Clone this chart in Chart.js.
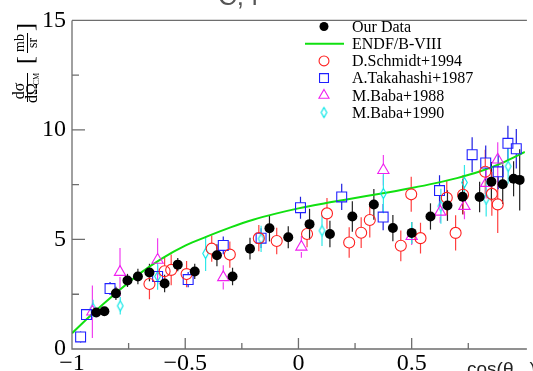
<!DOCTYPE html>
<html>
<head>
<meta charset="utf-8">
<script src="https://cdn.jsdelivr.net/npm/chart.js@4.4.0/dist/chart.umd.min.js"></script>
<style>
  html, body { margin: 0; padding: 0; background: #fff; overflow: hidden; }
  #wrap { width: 533px; height: 371px; }
</style>
</head>
<body>
<div id="wrap"><canvas id="xsec" width="533" height="371"></canvas></div>
<script>
// Angular distribution, x = cos(theta_CM), y = dsigma/dOmega in mb/sr

// Our Data
const ourX   = [-0.893, -0.857, -0.806, -0.755, -0.709, -0.658, -0.591, -0.533, -0.458, -0.36, -0.291, -0.214, -0.128, -0.045,
                0.049, 0.139, 0.238, 0.333, 0.417, 0.50, 0.583, 0.658, 0.725, 0.80, 0.852, 0.902, 0.95, 0.977];
const ourY   = [1.67, 1.72, 2.54, 3.13, 3.31, 3.49, 2.99, 3.85, 3.54, 4.28, 3.31, 4.58, 5.51, 5.10,
                5.70, 5.25, 6.05, 6.60, 5.52, 5.30, 6.05, 6.55, 6.95, 6.94, 7.64, 7.52, 7.77, 7.72];
const ourErr = [0.2, 0.2, 0.3, 0.3, 0.35, 0.4, 0.4, 0.3, 0.35, 0.5, 0.4, 0.5, 0.6, 0.5,
                0.7, 0.6, 0.7, 0.7, 0.6, 0.5, 0.6, 0.7, 0.8, 0.7, 0.9, 0.9, 0.8, 1.4];

// D.Schmidt+1994
const schX   = [-0.658, -0.591, -0.562, -0.494, -0.383, -0.303, -0.175, -0.096, 0.038, 0.126, 0.224, 0.277, 0.315,
                0.452, 0.498, 0.539, 0.655, 0.694, 0.727, 0.825, 0.854, 0.88];
const schY   = [2.97, 3.55, 3.61, 3.42, 4.58, 4.31, 5.06, 4.93, 5.25, 6.19, 4.86, 5.31, 5.89,
                4.71, 7.06, 5.06, 6.90, 5.30, 7.04, 8.09, 7.08, 6.60];
const schErr = [0.7, 0.7, 0.7, 0.6, 0.6, 0.6, 0.6, 0.6, 0.6, 0.7, 0.7, 0.7, 0.8,
                0.7, 0.8, 0.7, 0.8, 0.8, 0.9, 1.0, 1.0, 1.3];

// A.Takahashi+1987
const takX   = [-0.962, -0.936, -0.832, -0.622, -0.487, -0.332, -0.165, 0.009, 0.191, 0.374, 0.623, 0.767, 0.827, 0.882, 0.925, 0.962];
const takY   = [0.55, 1.57, 2.76, 3.31, 3.17, 4.73, 5.06, 6.45, 6.94, 6.02, 7.23, 8.87, 8.49, 8.09, 9.39, 9.14];
const takErr = [0.25, 0.25, 0.3, 0.35, 0.35, 0.4, 0.45, 0.5, 0.6, 0.6, 0.7, 0.8, 0.8, 0.8, 0.8, 0.9];

// M.Baba+1988
const b88X   = [-0.91, -0.788, -0.622, -0.332, 0.013, 0.375, 0.50, 0.626, 0.733, 0.829, 0.88];
const b88Y   = [1.70, 3.51, 4.06, 3.27, 4.66, 8.16, 5.15, 6.26, 6.52, 7.57, 8.64];
const b88Err = [1.2, 1.1, 1.0, 0.55, 0.5, 0.7, 0.4, 0.5, 0.6, 0.7, 0.8];

// M.Baba+1990
const b90X   = [-0.907, -0.787, -0.622, -0.41, -0.165, 0.104, 0.375, 0.50, 0.629, 0.733, 0.829, 0.926];
const b90Y   = [1.85, 1.97, 3.31, 4.36, 5.03, 5.40, 7.10, 5.30, 6.52, 7.60, 6.85, 8.34];
const b90Err = [0.4, 0.4, 0.6, 0.8, 0.6, 0.7, 0.9, 0.5, 0.8, 0.8, 0.8, 0.8];

// ENDF/B-VIII evaluation
const endfX = [-1, -0.9, -0.8, -0.7, -0.6, -0.5, -0.4, -0.3, -0.2, -0.1, 0, 0.1, 0.2, 0.3, 0.4, 0.5, 0.6, 0.7, 0.8, 0.9, 1];
const endfY = [0.72, 1.7, 2.6, 3.45, 4.15, 4.72, 5.15, 5.55, 5.9, 6.18, 6.42, 6.62, 6.8, 6.98, 7.16, 7.35, 7.56, 7.8, 8.1, 8.5, 9.0];

// axis ticks
const xMajor = [-1, -0.5, 0, 0.5];
const xMinor = [-0.75, -0.25, 0.25, 0.75];
const yMajor = [0, 5, 10, 15];
const yMinor = [2.5, 7.5, 12.5];

const AXIS_GREY = '#6e6e6e';
const SERIF = '"Liberation Serif", "DejaVu Serif", serif';
const SANS = '"Liberation Sans", Arial, sans-serif';

const pts = (xs, ys) => xs.map((x, i) => ({ x: x, y: ys[i] }));

// thin diamond marker
function diamondMarker(color) {
  const c = document.createElement('canvas');
  c.width = 9; c.height = 13;
  const g = c.getContext('2d');
  g.strokeStyle = color;
  g.lineWidth = 1.1;
  g.beginPath();
  g.moveTo(4.5, 1.5); g.lineTo(7.3, 6.5); g.lineTo(4.5, 11.5); g.lineTo(1.7, 6.5); g.closePath();
  g.stroke();
  return c;
}
const diamond = diamondMarker('#00e6e6');

const series = [
  { label: 'Our Data', data: pts(ourX, ourY), errs: ourErr, gap: 0, pointStyle: 'circle', pointRadius: 5,
    borderColor: '#000', backgroundColor: '#000', borderWidth: 0, barColor: '#222' },
  { label: 'D.Schmidt+1994', data: pts(schX, schY), errs: schErr, gap: 5.5, pointStyle: 'circle', pointRadius: 5.5,
    borderColor: '#ff2020', backgroundColor: 'rgba(0,0,0,0)', borderWidth: 1.1, barColor: '#ff4040' },
  { label: 'A.Takahashi+1987', data: pts(takX, takY), errs: takErr, gap: 5, pointStyle: 'rect', pointRadius: 7,
    borderColor: '#2020ff', backgroundColor: 'rgba(0,0,0,0)', borderWidth: 1.1, barColor: '#2020e0' },
  { label: 'M.Baba+1988', data: pts(b88X, b88Y), errs: b88Err, gap: 5, pointStyle: 'triangle', pointRadius: 6.5,
    borderColor: '#f020f0', backgroundColor: 'rgba(0,0,0,0)', borderWidth: 1.1, barColor: '#f040f0' },
  { label: 'M.Baba+1990', data: pts(b90X, b90Y), errs: b90Err, gap: 5, pointStyle: diamond, pointRadius: 5,
    borderColor: '#00e6e6', backgroundColor: 'rgba(0,0,0,0)', borderWidth: 1.1, barColor: '#30e8e8' }
];

const datasets = series.map(s => ({
  type: 'scatter',
  label: s.label,
  data: s.data,
  errs: s.errs,
  gap: s.gap,
  barColor: s.barColor,
  pointStyle: s.pointStyle,
  pointRadius: s.pointRadius,
  pointHoverRadius: s.pointRadius,
  pointBorderColor: s.borderColor,
  pointBackgroundColor: s.backgroundColor,
  pointBorderWidth: s.borderWidth,
  showLine: false
}));

datasets.push({
  type: 'line',
  label: 'ENDF/B-VIII',
  data: pts(endfX, endfY),
  borderColor: '#10e010',
  borderWidth: 2,
  pointRadius: 0,
  fill: false,
  cubicInterpolationMode: 'monotone'
});

// vertical error bars, split around open markers
const errorBars = {
  id: 'errorBars',
  beforeDatasetsDraw(chart) {
    const ctx = chart.ctx;
    const yScale = chart.scales.y;
    chart.data.datasets.forEach((ds, di) => {
      if (!ds.errs) return;
      const meta = chart.getDatasetMeta(di);
      ctx.save();
      ctx.strokeStyle = ds.barColor;
      ctx.lineWidth = 1.2;
      meta.data.forEach((el, i) => {
        const v = ds.data[i].y, e = ds.errs[i];
        const top = yScale.getPixelForValue(v + e);
        const bot = yScale.getPixelForValue(v - e);
        ctx.beginPath();
        if (ds.gap > 0) {
          if (el.y - ds.gap > top) { ctx.moveTo(el.x, top); ctx.lineTo(el.x, el.y - ds.gap); }
          if (el.y + ds.gap < bot) { ctx.moveTo(el.x, el.y + ds.gap); ctx.lineTo(el.x, bot); }
        } else {
          ctx.moveTo(el.x, top); ctx.lineTo(el.x, bot);
        }
        ctx.stroke();
      });
      ctx.restore();
    });
  }
};

// frame, inward ticks, axis titles and legend box
const decorations = {
  id: 'decorations',
  afterDraw(chart) {
    const ctx = chart.ctx;
    const a = chart.chartArea;
    const xs = chart.scales.x, ys = chart.scales.y;
    ctx.save();
    ctx.strokeStyle = AXIS_GREY;
    ctx.lineWidth = 1.3;
    ctx.beginPath();
    ctx.moveTo(a.left, a.top); ctx.lineTo(a.left, a.bottom); ctx.lineTo(a.right + 2, a.bottom);
    ctx.moveTo(a.left, a.top); ctx.lineTo(a.right + 2, a.top);
    yMajor.forEach(v => { const p = ys.getPixelForValue(v); ctx.moveTo(a.left, p); ctx.lineTo(a.left + 13, p); });
    yMinor.forEach(v => { const p = ys.getPixelForValue(v); ctx.moveTo(a.left, p); ctx.lineTo(a.left + 7, p); });
    xMajor.forEach(v => { const p = xs.getPixelForValue(v); ctx.moveTo(p, a.bottom); ctx.lineTo(p, a.bottom - 11); });
    xMinor.forEach(v => { const p = xs.getPixelForValue(v); ctx.moveTo(p, a.bottom); ctx.lineTo(p, a.bottom - 6); });
    ctx.stroke();

    // title, mostly above the canvas
    ctx.fillStyle = '#555';
    ctx.font = '26px ' + SANS;
    ctx.textBaseline = 'alphabetic';
    ctx.textAlign = 'left';
    ctx.fillText('C, f', 218, 5);

    // x title
    ctx.fillStyle = '#222';
    ctx.font = '19px ' + SANS;
    ctx.fillText('cos(\u03b8', 467, 375);
    let w = ctx.measureText('cos(\u03b8').width;
    ctx.font = '9px ' + SANS;
    ctx.fillText('CM', 467 + w + 1, 378);
    const w2 = ctx.measureText('CM').width;
    ctx.font = '19px ' + SANS;
    ctx.fillText(')', 467 + w + w2 + 2, 375);

    // y title, rotated
    const rot = (txt, sx, sy, font) => {
      ctx.save();
      ctx.translate(sx, sy);
      ctx.rotate(-Math.PI / 2);
      ctx.font = font;
      ctx.textAlign = 'center';
      ctx.textBaseline = 'middle';
      ctx.fillText(txt, 0, 0);
      ctx.restore();
    };
    ctx.fillStyle = '#000';
    rot('d\u03c3', 20, 91, '16px ' + SERIF);
    rot('d\u03a9', 33, 93, '16px ' + SERIF);
    rot('CM', 37, 79, '8px ' + SERIF);
    rot('mb', 20, 43, '14px ' + SERIF);
    rot('sr', 33, 43, '14px ' + SERIF);
    rot('[', 27, 60, '24px ' + SERIF);
    rot(']', 27, 27, '24px ' + SERIF);
    ctx.strokeStyle = '#000';
    ctx.lineWidth = 1;
    ctx.beginPath();
    ctx.moveTo(27.5, 73); ctx.lineTo(27.5, 102);
    ctx.moveTo(27.5, 33); ctx.lineTo(27.5, 53);
    ctx.stroke();

    // legend
    const lx = 324, tx = 352, ly0 = 26.5, dy = 17.2;
    const order = [0, 5, 1, 2, 3, 4];
    ctx.font = '16px ' + SERIF;
    ctx.textAlign = 'left';
    ctx.textBaseline = 'middle';
    order.forEach((di, row) => {
      const ds = chart.data.datasets[di];
      const y = ly0 + row * dy;
      if (ds.type === 'line') {
        ctx.strokeStyle = ds.borderColor;
        ctx.lineWidth = 2;
        ctx.beginPath(); ctx.moveTo(305, y); ctx.lineTo(344, y); ctx.stroke();
      } else {
        ctx.strokeStyle = ds.pointBorderColor;
        ctx.fillStyle = ds.pointBackgroundColor;
        ctx.lineWidth = ds.pointBorderWidth || 1;
        Chart.helpers.drawPoint(ctx, { pointStyle: ds.pointStyle, radius: ds.pointRadius * 0.9, borderWidth: ds.pointBorderWidth, rotation: 0 }, lx, y);
      }
      ctx.fillStyle = '#000';
      ctx.fillText(ds.label, tx, y + 1);
    });
    ctx.restore();
  }
};

const fmt = v => (v < 0 ? '\u2212' + Math.abs(v) : String(v));

new Chart(document.getElementById('xsec'), {
  data: { datasets: datasets },
  options: {
    responsive: false,
    animation: false,
    devicePixelRatio: 1,
    layout: { padding: { top: 14, right: 0, left: 0, bottom: 0 } },
    plugins: { legend: { display: false }, tooltip: { enabled: false } },
    scales: {
      x: {
        type: 'linear',
        min: -1, max: 1,
        grid: { display: false, drawTicks: false },
        border: { display: false },
        afterBuildTicks: s => { s.ticks = xMajor.map(v => ({ value: v })); },
        afterFit: s => { s.height = 22; },
        ticks: { color: '#000', padding: 0, maxRotation: 0, autoSkip: false,
                 font: { family: SERIF, size: 24 }, callback: v => fmt(v) }
      },
      y: {
        type: 'linear',
        min: 0, max: 15,
        grid: { display: false, drawTicks: false },
        border: { display: false },
        afterBuildTicks: s => { s.ticks = yMajor.map(v => ({ value: v })); },
        afterFit: s => { s.width = 72; },
        ticks: { color: '#000', padding: 6, font: { family: SERIF, size: 24 }, callback: v => fmt(v) }
      }
    }
  },
  plugins: [errorBars, decorations]
});
</script>
</body>
</html>
